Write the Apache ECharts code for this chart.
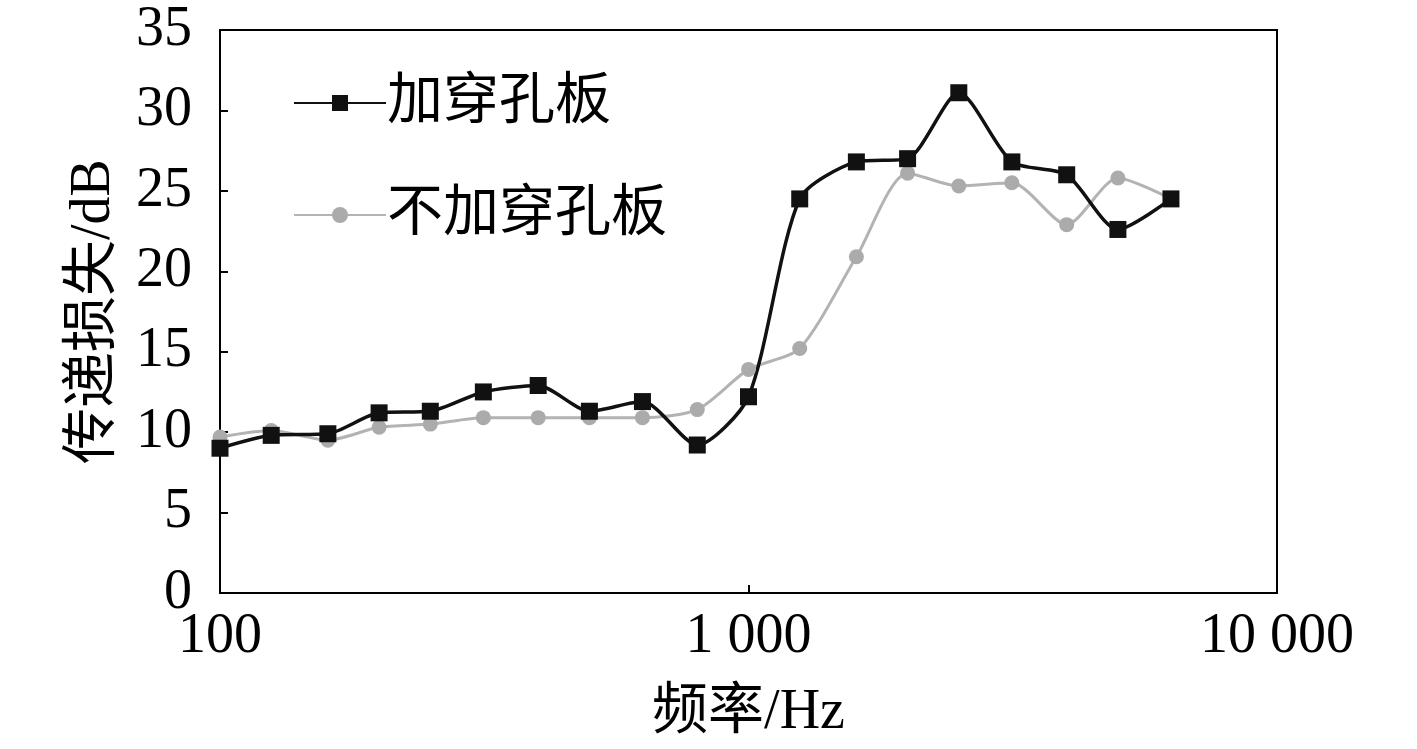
<!DOCTYPE html>
<html>
<head>
<meta charset="utf-8">
<script src="https://cdn.jsdelivr.net/npm/echarts@6/dist/echarts.min.js"></script>
<style>
html,body{margin:0;padding:0;background:#fff;}
#main{width:1417px;height:749px;}
</style>
</head>
<body>
<div id="main"></div>
<script>
var freqs = [100, 125, 160, 200, 250, 315, 400, 500, 630, 800, 1000, 1250, 1600, 2000, 2500, 3150, 4000, 5000, 6300];
var withPlate = [9.0, 9.8, 9.9, 11.2, 11.3, 12.5, 12.9, 11.3, 11.9, 9.2, 12.2, 24.5, 26.8, 27.0, 31.1, 26.8, 26.0, 22.6, 24.5];
var withoutPlate = [9.7, 10.1, 9.5, 10.3, 10.5, 10.9, 10.9, 10.9, 10.9, 11.4, 13.9, 15.2, 20.9, 26.1, 25.3, 25.5, 22.9, 25.8, 24.5];
var seriesNames = ['加穿孔板', '不加穿孔板'];

var font = '"Liberation Serif", "Times New Roman", "Noto Sans CJK SC", serif';

function pairs(xs, ys) {
    return xs.map(function (x, i) { return [x, ys[i]]; });
}

var dom = document.getElementById('main');
var myChart = echarts.init(dom);

var option = {
    animation: false,
    grid: {
        left: 220, right: 140, top: 30, bottom: 156,
        show: true, borderColor: '#000', borderWidth: 2
    },
    legend: {
        orient: 'vertical',
        left: 288, top: 70,
        itemWidth: 92, itemHeight: 20,
        itemGap: 56,
        textStyle: { fontFamily: font, fontSize: 56, color: '#000', padding: [0, 0, 0, -4] },
        data: seriesNames
    },
    xAxis: {
        type: 'log',
        logBase: 10,
        min: 100, max: 10000,
        name: '频率/Hz',
        nameLocation: 'middle',
        nameGap: 92,
        nameTextStyle: { fontFamily: font, fontSize: 56, color: '#000' },
        axisLine: { lineStyle: { color: '#000', width: 2 } },
        axisTick: { show: true, inside: true, length: 8, lineStyle: { color: '#000', width: 2 } },
        minorTick: { show: false },
        splitLine: { show: false },
        axisLabel: {
            fontFamily: font, fontSize: 56, color: '#000', margin: 16,
            formatter: function (v) {
                return String(Math.round(v)).replace(/\B(?=(\d{3})+(?!\d))/g, ' ');
            }
        }
    },
    yAxis: {
        type: 'value',
        min: 0, max: 35, interval: 5,
        name: '传递损失/dB',
        nameLocation: 'middle',
        nameGap: 98,
        nameTextStyle: { fontFamily: font, fontSize: 56, color: '#000' },
        axisLine: { show: true, lineStyle: { color: '#000', width: 2 } },
        axisTick: { show: true, inside: true, length: 8, lineStyle: { color: '#000', width: 2 } },
        splitLine: { show: false },
        axisLabel: { fontFamily: font, fontSize: 56, color: '#000', margin: 28 }
    },
    series: [
        {
            name: seriesNames[1],
            type: 'line',
            smooth: 0.25,
            data: pairs(freqs, withoutPlate),
            symbol: 'circle',
            symbolSize: 15,
            itemStyle: { color: '#ababab' },
            lineStyle: { color: '#b3b3b3', width: 3 }
        },
        {
            name: seriesNames[0],
            type: 'line',
            smooth: 0.25,
            data: pairs(freqs, withPlate),
            symbol: 'rect',
            symbolSize: 17,
            itemStyle: { color: '#111' },
            lineStyle: { color: '#111', width: 3.5 },
            z: 3
        }
    ]
};

if (option && typeof option === 'object') {
    myChart.setOption(option, true);
}
window.addEventListener('resize', function () { myChart.resize(); });
</script>
</body>
</html>
